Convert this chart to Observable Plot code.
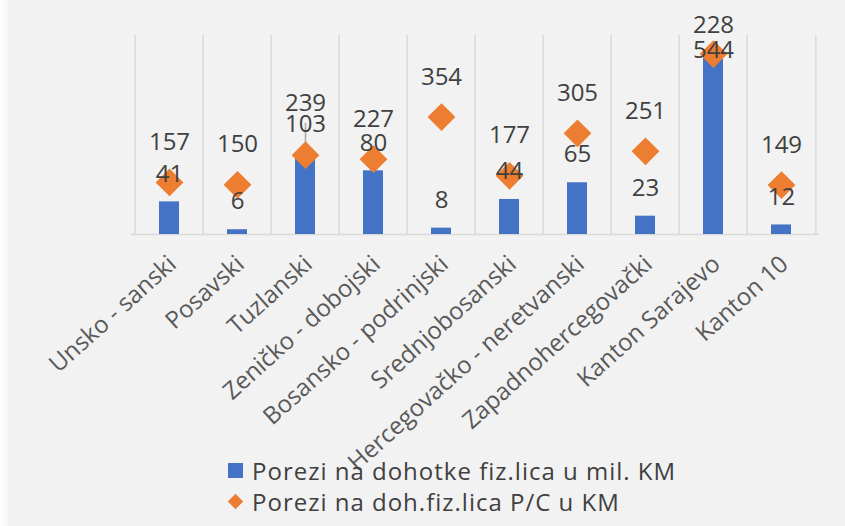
<!DOCTYPE html>
<html><head><meta charset="utf-8">
<script src="https://cdn.jsdelivr.net/npm/d3@7"></script>
<script src="https://cdn.jsdelivr.net/npm/@observablehq/plot@0.6"></script>
<style>
body{margin:0;background:#f2f2f2;font-family:"Open Sans",sans-serif;overflow:hidden;width:845px;height:526px;position:relative}
#edge{position:absolute;left:0;top:0;width:9px;height:526px;background:linear-gradient(to right,#ffffff,#f4f4f4)}
#chart{position:absolute;left:0;top:0}
#legend{position:absolute;left:228px;top:455px;color:#404040;font-size:24px;letter-spacing:1px}
.row{display:flex;align-items:center;height:31px}
.sq{width:15px;height:15px;background:#4472C4;margin-right:9px}
.dm{width:11px;height:11px;background:#ED7D31;transform:rotate(45deg);margin:0 11px 0 2px}
</style></head>
<body>
<div id="edge"></div>
<div id="chart"></div>
<div id="legend">
  <div class="row"><div class="sq"></div><span>Porezi na dohotke fiz.lica u mil. KM</span></div>
  <div class="row"><div class="dm"></div><span>Porezi na doh.fiz.lica P/C u KM</span></div>
</div>
<script>
const cantons = ["Unsko - sanski","Posavski","Tuzlanski","Zeničko - dobojski","Bosansko - podrinjski","Srednjobosanski","Hercegovačko - neretvanski","Zapadnohercegovački","Kanton Sarajevo","Kanton 10"];
const taxMil = [41,6,103,80,8,44,65,23,228,12];
const taxPC = [157,150,239,227,354,177,305,251,544,149];
const barMax = 250, pcMax = 600;

const W = 845, H = 462, MT = 35, MB = 228, ML = 131, MR = 26;
const innerH = H - MT - MB;
const ratio = pcMax / barMax;
const bw = (W - ML - MR) / cantons.length;
const px = v => MT + innerH * (1 - v / pcMax);
const unit = p => pcMax * (1 - (p - MT) / innerH);

const data = cantons.map((c, i) => {
  const dPx = px(taxPC[i]);
  const bLab = px(taxMil[i] * ratio) - 28;
  let lab = dPx - 40, moved = false;
  if (lab < MT - 10) lab = dPx - 4;
  else if (Math.abs(lab - bLab) < 20) { lab = bLab - 21; moved = true; }
  return {canton: c, mil: taxMil[i], pc: taxPC[i], barY: taxMil[i] * ratio,
          labY: unit(lab), moved, leadTop: unit(lab + 20)};
});

const chart = Plot.plot({
  width: W, height: H,
  marginTop: MT, marginBottom: MB, marginLeft: ML, marginRight: MR,
  style: {background: "transparent", fontFamily: "Open Sans", overflow: "visible"},
  x: {type: "band", domain: cantons, padding: 0, axis: null},
  y: {domain: [0, pcMax], axis: null},
  marks: [
    Plot.ruleX(cantons, {x: d => d, y1: 0, y2: pcMax, dx: -bw / 2, stroke: "#d9d9d9", strokeWidth: 1.5}),
    Plot.ruleX(cantons.slice(-1), {x: d => d, y1: 0, y2: pcMax, dx: bw / 2, stroke: "#d9d9d9", strokeWidth: 1.5}),
    Plot.ruleY([0], {stroke: "#d9d9d9", strokeWidth: 1.5}),
    Plot.barY(data, {x: "canton", y: "barY", fill: "#4472C4", insetLeft: 24, insetRight: 24}),
    Plot.ruleX(data.filter(d => d.moved), {x: "canton", y1: "leadTop", y2: "pc", stroke: "#a6a6a6", strokeWidth: 1.5}),
    Plot.dot(data, {x: "canton", y: "pc", symbol: "diamond2", r: 12.5, fill: "#ED7D31"}),
    Plot.text(data, {x: "canton", y: "barY", text: d => String(d.mil), dy: -28, fontSize: 24, fill: "#404040"}),
    Plot.text(data, {x: "canton", y: "labY", text: d => String(d.pc), fontSize: 24, fill: "#404040"}),
    Plot.text(cantons, {x: d => d, frameAnchor: "bottom", text: d => d, rotate: -42, textAnchor: "end", lineAnchor: "middle", dx: 3, dy: 26, fontSize: 24, letterSpacing: "0.5px", fill: "#595959"})
  ]
});
document.getElementById("chart").appendChild(chart);
</script>
</body></html>
